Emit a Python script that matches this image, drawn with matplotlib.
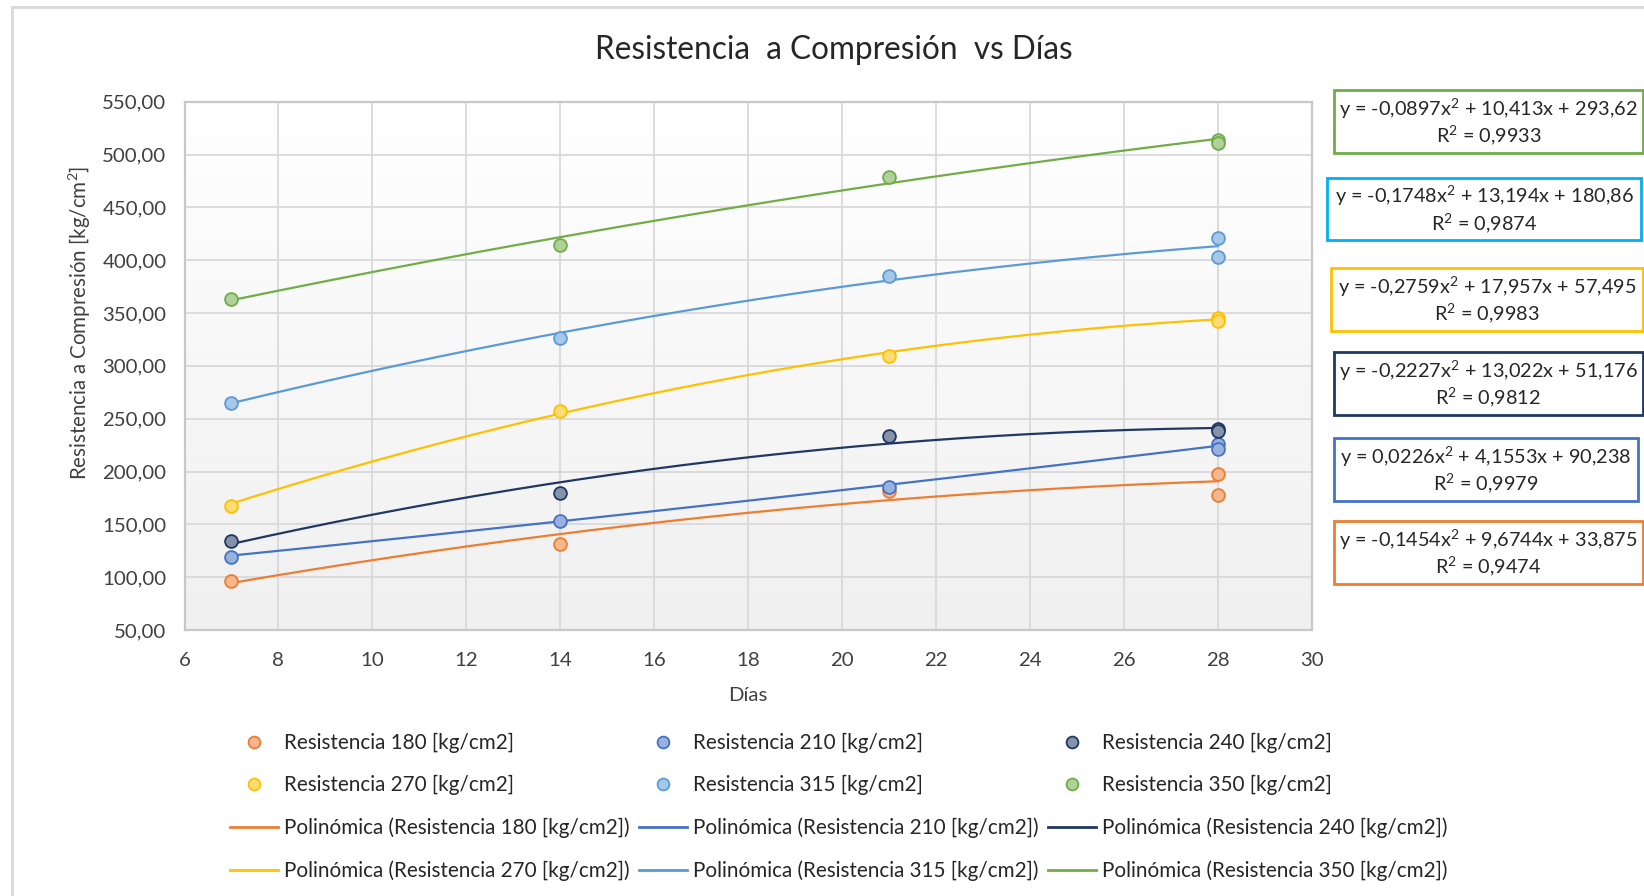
import numpy as np
import matplotlib
matplotlib.use("Agg")
import matplotlib.pyplot as plt
from matplotlib.colors import LinearSegmentedColormap, to_rgb
from matplotlib.lines import Line2D
from matplotlib.patches import Rectangle
from matplotlib.ticker import FuncFormatter, MultipleLocator

plt.rcParams['font.family'] = ['Lato', 'DejaVu Sans']
plt.rcParams['mathtext.fontset'] = 'custom'
plt.rcParams['mathtext.rm'] = 'Lato'
plt.rcParams['mathtext.it'] = 'Lato'
plt.rcParams['mathtext.bf'] = 'Lato:bold'

# ---- data ---------------------------------------------------------------
dias = [7, 14, 21, 28, 28]

res_180 = [96, 131, 182, 198, 178]
res_210 = [119, 153, 185, 226, 221]
res_240 = [134, 180, 234, 240, 238]
res_270 = [167, 257, 309, 345, 342]
res_315 = [265, 326, 385, 421, 403]
res_350 = [363, 414, 479, 514, 511]

nombres = ["Resistencia 180 [kg/cm2]", "Resistencia 210 [kg/cm2]",
           "Resistencia 240 [kg/cm2]", "Resistencia 270 [kg/cm2]",
           "Resistencia 315 [kg/cm2]", "Resistencia 350 [kg/cm2]"]

# polynomial trend coefficients (a, b, c) and R², as printed
coef_180 = ["-0,1454", "9,6744", "33,875"]
coef_210 = ["0,0226", "4,1553", "90,238"]
coef_240 = ["-0,2227", "13,022", "51,176"]
coef_270 = ["-0,2759", "17,957", "57,495"]
coef_315 = ["-0,1748", "13,194", "180,86"]
coef_350 = ["-0,0897", "10,413", "293,62"]
r2_vals = ["0,9474", "0,9979", "0,9812", "0,9983", "0,9874", "0,9933"]

x_ticks = [6, 8, 10, 12, 14, 16, 18, 20, 22, 24, 26, 28, 30]

# ---- styling ------------------------------------------------------------
colores = ["#ED7D31", "#4472C4", "#203864", "#FFC000", "#5B9BD5", "#70AD47"]
borde_eq = ["#ED7D31", "#4472C4", "#203864", "#FFC000", "#00B0F0", "#70AD47"]

series = [res_180, res_210, res_240, res_270, res_315, res_350]
coefs = [coef_180, coef_210, coef_240, coef_270, coef_315, coef_350]

W, H = 1644, 896
fig = plt.figure(figsize=(W / 100, H / 100), dpi=100)


def fx(px):
    return px / W


def fy(py):
    return 1 - py / H


def num(s):
    return float(s.replace(",", "."))


def tint(c, k=0.55):
    r = np.array(to_rgb(c))
    return tuple(k * r + (1 - k) * np.ones(3))


# outer chart frame
fig.add_artist(Line2D([fx(12), 1], [fy(7), fy(7)], color="#D9D9D9", lw=2))
fig.add_artist(Line2D([fx(12), fx(12)], [fy(7), 0], color="#D9D9D9", lw=2))

ax = fig.add_axes([fx(184.5), fy(630), fx(1311.7) - fx(184.5), fy(101.7) - fy(630)])

grad = LinearSegmentedColormap.from_list("fondo", ["#FFFFFF", "#F0F0F0"])
ax.imshow(np.linspace(0, 1, 256).reshape(-1, 1), extent=[0, 1, 0, 1],
          transform=ax.transAxes, aspect="auto", cmap=grad, zorder=0)

ax.set_xlim(6, 30)
ax.set_ylim(50, 550)
ax.set_xticks(x_ticks)
ax.yaxis.set_major_locator(MultipleLocator(50))
ax.yaxis.set_major_formatter(FuncFormatter(lambda v, p: f"{v:.2f}".replace(".", ",")))
ax.set_axisbelow(True)
ax.grid(True, color="#D9D9D9", lw=1.3)
for s in ax.spines.values():
    s.set_color("#C8C8C8")
    s.set_linewidth(1.6)
ax.tick_params(length=0, labelsize=14.7, colors="#404040")
ax.tick_params(axis="x", pad=16)
ax.tick_params(axis="y", pad=13)

xs = np.linspace(7, 28, 200)
for vals, cf, col in zip(series, coefs, colores):
    a, b, c = (num(v) for v in cf)
    ax.plot(xs, a * xs ** 2 + b * xs + c, color=col, lw=1.6, zorder=2)
    ax.scatter(dias, vals, s=85, facecolor=tint(col), edgecolor=col,
               linewidth=1.3, zorder=3)

# titles and axis labels
fig.text(fx(834), fy(50), "Resistencia  a Compresión  vs Días", ha="center",
         va="center", fontsize=22.7, color="#262626")
fig.text(fx(748), fy(695), "Días", ha="center", va="center", fontsize=14.7,
         color="#404040")
fig.text(fx(80), fy(323), "Resistencia a Compresión [kg/cm$^2$]", rotation=90,
         ha="center", va="center", fontsize=14.8, color="#404040")

# trendline equation boxes
cajas = [  # x0, x1, y0, y1 in pixels, same order as the series
    (1334, 1643, 521, 584),
    (1334, 1638, 438, 501),
    (1334, 1643, 352, 415),
    (1331, 1643, 268, 331),
    (1327, 1641, 178, 240),
    (1334, 1643, 90, 153),
]
for (x0, x1, y0, y1), cf, r2, bc in zip(cajas, coefs, r2_vals, borde_eq):
    fig.add_artist(Rectangle((fx(x0), fy(y1)), fx(x1) - fx(x0), fy(y0) - fy(y1),
                             transform=fig.transFigure, fill=False,
                             edgecolor=bc, lw=2))
    cx = fx((x0 + x1) / 2)
    cy = (y0 + y1) / 2
    a, b, c = cf
    fig.text(cx, fy(cy - 13), f"y = {a}x$^2$ + {b}x + {c}", ha="center",
             va="center", fontsize=14.3, color="#262626")
    fig.text(cx, fy(cy + 14), f"R$^2$ = {r2}", ha="center", va="center",
             fontsize=14.3, color="#262626")

# legend, laid out as three columns
handles = []
labels = []
for col, nm in zip(colores, nombres):
    handles.append(Line2D([], [], marker="o", ls="", markersize=8.5,
                          markerfacecolor=tint(col), markeredgecolor=col,
                          markeredgewidth=1.3))
    labels.append(nm)
for col, nm in zip(colores, nombres):
    handles.append(Line2D([], [], color=col, lw=2))
    labels.append(f"Polinómica ({nm})")

col_x = [230, 639, 1048]
for j in range(3):
    idx = [j, j + 3, j + 6, j + 9]
    fig.legend([handles[i] for i in idx], [labels[i] for i in idx],
               loc="upper left", bbox_to_anchor=(fx(col_x[j]), fy(733)),
               frameon=False, fontsize=14.9, handlelength=2.3,
               handletextpad=0.3, labelspacing=1.07, borderpad=0,
               borderaxespad=0, labelcolor="#262626")

fig.savefig("out.png", dpi=100)
